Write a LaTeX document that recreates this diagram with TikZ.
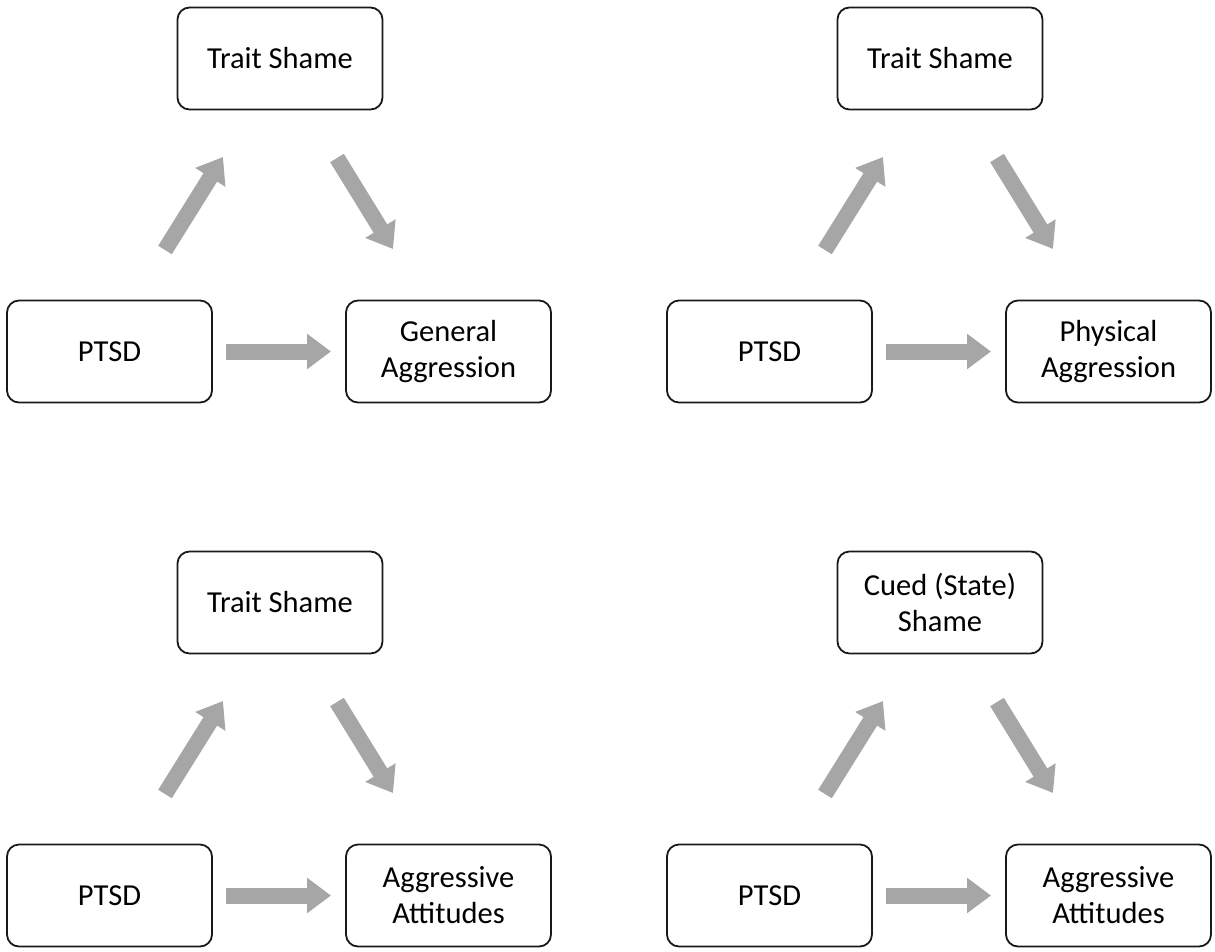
\documentclass[tikz,border=0pt]{standalone}
\usepackage{fontspec}
\setmainfont{Carlito}
\usetikzlibrary{arrows.meta}
\definecolor{arrowgray}{HTML}{A6A6A6}
\tikzset{
  box/.style={draw=black!90, line width=1.8pt, rounded corners=12pt, minimum width=205pt, minimum height=102pt, align=center, inner sep=2pt, font=\fontsize{30.5}{36}\selectfont},
  blockarrow/.style={draw=arrowgray, line width=16pt, -{Triangle[width=34pt,length=24pt]}, arrowgray}
}
\begin{document}
\begin{tikzpicture}[x=1pt,y=-1pt]
\useasboundingbox (0,0) rectangle (1215,951);
\foreach \dx/\dy/\top/\right/\id in {
  0/0/{Trait Shame}/{General\\Aggression}/a,
  660/0/{Trait Shame}/{Physical\\Aggression}/b,
  0/544/{Trait Shame}/{Aggressive\\Attitudes}/c,
  660/544/{Cued (State)\\Shame}/{Aggressive\\Attitudes}/d}{
  \begin{scope}[shift={(\dx,\dy)}]
    \node[box] (shame\id) at (280,58.5) {\top};
    \node[box] (ptsd\id) at (109.5,351.5) {PTSD};
    \node[box] (out\id) at (448.5,351.5) {\right};
    \coordinate (u1\id) at (165,250);
    \coordinate (u2\id) at (223,157);
    \coordinate (d1\id) at (337,158);
    \coordinate (d2\id) at (393,249);
    \coordinate (h1\id) at (226,351.5);
    \coordinate (h2\id) at (331,351.5);
    \draw[blockarrow] (u1\id) -- (u2\id);
    \draw[blockarrow] (d1\id) -- (d2\id);
    \draw[blockarrow] (h1\id) -- (h2\id);
  \end{scope}
}
\end{tikzpicture}
\end{document}
